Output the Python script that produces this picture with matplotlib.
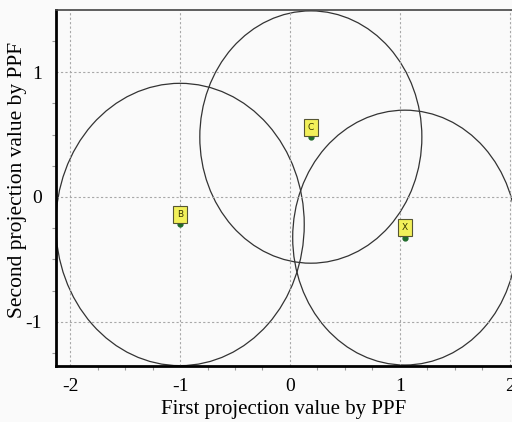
import matplotlib
matplotlib.use("Agg")
import matplotlib.pyplot as plt
import matplotlib.patches as patches
from matplotlib.ticker import MultipleLocator

# points projected by PPF, with their circle radii
names = ["B", "C", "X"]
x_proj = [-1.0, 0.19, 1.045]
y_proj = [-0.22, 0.48, -0.325]
radii = [1.13, 1.01, 1.02]

x_ticks = [-2, -1, 0, 1, 2]
y_ticks = [-1, 0, 1]

plt.rcParams['font.family'] = ['Liberation Serif', 'DejaVu Serif']
plt.rcParams['axes.unicode_minus'] = False

bg = '#fafafa'
fig = plt.figure(figsize=(5.12, 4.22), dpi=100, facecolor=bg)
ax = fig.add_axes([0.109, 0.133, 0.891, 0.843], facecolor=bg)

ax.set_xlim(-2.13, 2.02)
ax.set_ylim(-1.352, 1.496)

for cx, cy, r in zip(x_proj, y_proj, radii):
    c = patches.Circle((cx, cy), r, fill=False, edgecolor='#333333', linewidth=0.9)
    ax.add_patch(c)

for name, px, py in zip(names, x_proj, y_proj):
    ax.plot(px, py, marker='o', markersize=3.5, color='#1f6b2a', zorder=4)
    ax.annotate(name, (px, py), xytext=(0, 7), textcoords='offset points',
                ha='center', va='center', fontsize=6.5, family='DejaVu Sans',
                color='#333300', zorder=5,
                bbox=dict(boxstyle='square,pad=0.45', facecolor='#f2f05a',
                          edgecolor='#555533', linewidth=0.8))

ax.set_xticks(x_ticks)
ax.set_yticks(y_ticks)
ax.xaxis.set_minor_locator(MultipleLocator(0.25))
ax.yaxis.set_minor_locator(MultipleLocator(0.25))
ax.tick_params(which='major', length=0, labelsize=14, pad=9)
ax.tick_params(axis='y', which='major', pad=10)
ax.tick_params(which='minor', length=3, color='#999999', width=0.8)

ax.grid(True, which='major', color='#a8a8a8', linestyle=(0, (2, 2)), linewidth=0.8)

ax.spines['left'].set_linewidth(2)
ax.spines['bottom'].set_linewidth(2)
ax.spines['left'].set_color('black')
ax.spines['bottom'].set_color('black')
ax.spines['top'].set_linewidth(1.2)
ax.spines['top'].set_color('#444444')
ax.spines['right'].set_visible(False)

ax.set_xlabel('First projection value by PPF', fontsize=15, va='center')
ax.xaxis.set_label_coords(0.5, -0.124)
ax.set_ylabel('Second projection value by PPF', fontsize=15.5, va='center')
ax.yaxis.set_label_coords(-0.083, 0.522)

fig.savefig('out.png', dpi=100, facecolor=bg)
